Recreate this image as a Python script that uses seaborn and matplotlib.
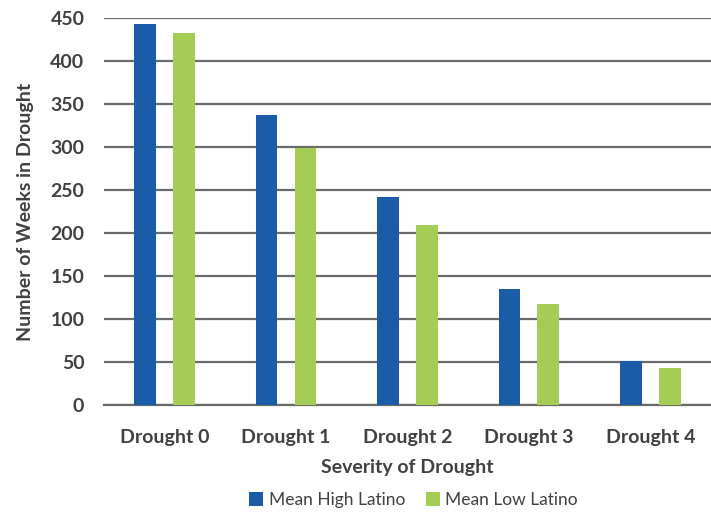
import pandas as pd
import matplotlib
matplotlib.use('Agg')
import matplotlib.pyplot as plt
import seaborn as sns

# Chart data
categories = ['Drought 0', 'Drought 1', 'Drought 2', 'Drought 3', 'Drought 4']
series = ['Mean High Latino', 'Mean Low Latino']
high_latino = [443, 337, 242, 135, 51]
low_latino = [432, 299, 209, 117, 43]
y_ticks = [0, 50, 100, 150, 200, 250, 300, 350, 400, 450]

colors = ['#1a5ca8', '#a5cd56']
text_color = '#404040'

df = pd.DataFrame({
    'category': categories * 2,
    'series': [series[0]] * len(categories) + [series[1]] * len(categories),
    'weeks': high_latino + low_latino,
})

sns.set_style('white')
plt.rcParams['font.family'] = ['Lato', 'DejaVu Sans']

fig = plt.figure(figsize=(7.11, 5.12), dpi=100)
ax = fig.add_axes([0.146, 0.209, 0.854, 0.756])

sns.barplot(data=df, x='category', y='weeks', hue='series', order=categories,
            hue_order=series, palette=colors, width=0.64, gap=0.44,
            saturation=1, linewidth=0, ax=ax, zorder=3)

ax.set_ylim(0, 450)
ax.set_yticks(y_ticks)
ax.yaxis.grid(True, color='#6a6a6a', linewidth=1.6, zorder=0)
ax.set_axisbelow(True)
for side in ['top', 'right', 'left']:
    ax.spines[side].set_visible(False)
ax.spines['bottom'].set_color('#6a6a6a')
ax.spines['bottom'].set_linewidth(1.6)
ax.tick_params(axis='both', length=0, labelsize=14, labelcolor=text_color)
ax.tick_params(axis='y', pad=14)
ax.tick_params(axis='x', pad=17)
for lbl in ax.get_xticklabels() + ax.get_yticklabels():
    lbl.set_fontweight('bold')

ax.set_xlabel('Severity of Drought', fontsize=14, fontweight='bold',
              color=text_color, labelpad=10)
ax.set_ylabel('Number of Weeks in Drought', fontsize=14, fontweight='bold',
              color=text_color, labelpad=12)

ax.legend(loc='center', bbox_to_anchor=(0.51, -0.245), ncol=2,
          frameon=False, fontsize=12.5, handlelength=0.8, handleheight=0.9,
          handletextpad=0.3, columnspacing=1.2, labelcolor=text_color,
          borderpad=0)

fig.savefig('out.png', dpi=100)
